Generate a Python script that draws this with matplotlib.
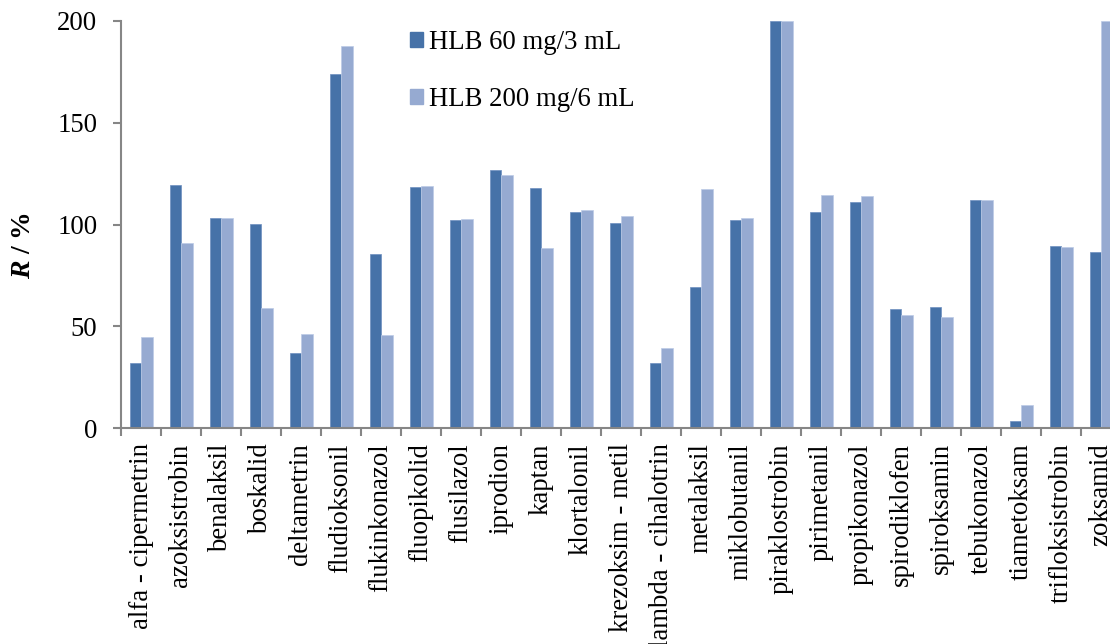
import matplotlib
matplotlib.use("Agg")
import matplotlib.pyplot as plt
import numpy as np
from matplotlib.patches import Patch

categories = ["alfa - cipermetrin", "azoksistrobin", "benalaksil", "boskalid",
              "deltametrin", "fludioksonil", "flukinkonazol", "fluopikolid",
              "flusilazol", "iprodion", "kaptan", "klortalonil",
              "krezoksim - metil", "lambda - cihalotrin", "metalaksil",
              "miklobutanil", "piraklostrobin", "pirimetanil", "propikonazol",
              "spirodiklofen", "spiroksamin", "tebukonazol", "tiametoksam",
              "trifloksistrobin", "zoksamid"]
hlb60 = [31.9, 119.3, 103.1, 100.3, 36.8, 173.8, 85.6, 118.6, 102.1, 127.0,
         117.8, 106.2, 100.5, 32.1, 69.2, 102.3, 200.0, 106.2, 111.0, 58.7,
         59.7, 111.8, 3.6, 89.4, 86.7]
hlb200 = [44.7, 91.1, 103.0, 59.1, 46.3, 187.7, 45.8, 119.0, 102.6, 124.2,
          88.4, 107.0, 104.1, 39.1, 117.2, 103.1, 200.0, 114.7, 113.9, 55.5,
          54.6, 111.9, 11.3, 88.9, 200.0]
series_labels = ["HLB 60 mg/3 mL", "HLB 200 mg/6 mL"]
yticks = [0, 50, 100, 150, 200]

plt.rcParams['font.family'] = ['Liberation Serif', 'DejaVu Serif']
plt.rcParams['mathtext.fontset'] = 'custom'
plt.rcParams['mathtext.rm'] = 'Liberation Serif'
plt.rcParams['mathtext.bf'] = 'Liberation Serif:bold'
plt.rcParams['mathtext.it'] = 'Liberation Serif:italic'
plt.rcParams['mathtext.bfit'] = 'Liberation Serif:bold:italic'

W, H = 1110, 644
fig = plt.figure(figsize=(W / 100, H / 100), dpi=100)
ax = fig.add_axes([121 / W, 1 - 428 / H, 1000 / W, 407 / H])

dark = "#4672A8"
light = "#96AAD1"
x = np.arange(len(categories))
bw = 0.2875
ax.bar(x - bw / 2, hlb60, bw, color=dark, edgecolor="#6E8FC0", linewidth=0.5, label=series_labels[0])
ax.bar(x + bw / 2, hlb200, bw, color=light, edgecolor="#BCCBE6", linewidth=0.5, label=series_labels[1])

ax.set_xlim(-0.5, len(categories) - 0.5)
ax.set_ylim(0, 200)

# ticks at category boundaries, labels at centres
ax.set_xticks(np.arange(len(categories) + 1) - 0.5)
ax.set_xticklabels([])
ax.set_xticks(x, minor=True)
ax.set_xticklabels(categories, minor=True, rotation=90, fontsize=19.3)
ax.tick_params(axis='x', which='major', direction='out', length=6, width=1.5, color="#868686")
ax.tick_params(axis='x', which='minor', length=0, pad=11)

ax.set_yticks(yticks)
ax.set_yticklabels([str(v) for v in yticks], fontsize=19.3)
ax.tick_params(axis='y', direction='out', length=6, width=1.5, color="#868686", pad=11)

for s in ['top', 'right']:
    ax.spines[s].set_visible(False)
for s in ['left', 'bottom']:
    ax.spines[s].set_color("#868686")
    ax.spines[s].set_linewidth(1.5)

fig.text(24 / W, 1 - 246 / H, r"$\bfit{R}\ \mathbf{/\ \%}$", rotation=90, fontsize=20,
         ha='center', va='center')

handles = [Patch(facecolor=dark, edgecolor=dark), Patch(facecolor=light, edgecolor=light)]
leg = ax.legend(handles, series_labels, loc='upper left', bbox_to_anchor=(0.289, 0.978),
                frameon=False, fontsize=19.3, handlelength=0.5, handleheight=0.5,
                handletextpad=0.2, labelspacing=1.2, borderpad=0, borderaxespad=0)

fig.savefig("out.png", dpi=100)
